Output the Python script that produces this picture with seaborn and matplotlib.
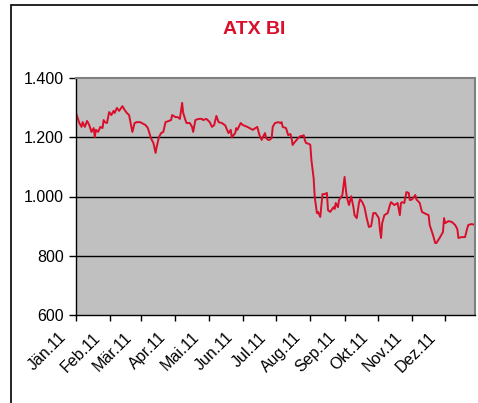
import pandas as pd
import matplotlib.pyplot as plt
import matplotlib.dates as mdates
import matplotlib.transforms as mtransforms
from matplotlib.patches import Rectangle
from matplotlib.ticker import FuncFormatter
import seaborn as sns

plt.switch_backend('Agg')

# ATX BI 2011, day of year (0 = 1 Jan) and index level
days = [0, 3, 5, 6, 8, 10, 12, 14, 16, 17, 18, 20, 22, 24, 25, 26, 28, 30, 32, 34,
        35, 37, 39, 42, 44, 46, 48, 51, 53, 55, 58, 63, 65, 68, 70, 72, 73, 75, 77, 79,
        81, 84, 86, 87, 90, 92, 94, 96, 97, 99, 100, 103, 105, 106, 108, 111, 114, 115, 118, 121,
        123, 125, 127, 129, 132, 135, 136, 138, 140, 141, 144, 145, 146, 149, 151, 155, 157, 160, 164, 166,
        168, 169, 171, 172, 174, 175, 177, 178, 180, 183, 185, 186, 187, 190, 192, 194, 195, 196, 198, 201,
        203, 205, 206, 207, 208, 211, 212, 213, 215, 216, 218, 219, 221, 223, 225, 227, 228, 230, 233, 234,
        235, 237, 238, 241, 243, 244, 245, 247, 249, 251, 252, 254, 256, 257, 259, 261, 263, 265, 267, 269,
        271, 274, 275, 276, 277, 279, 282, 284, 285, 286, 288, 291, 293, 294, 295, 297, 299, 301, 302, 304,
        305, 307, 308, 311, 313, 315, 319, 320, 323, 325, 326, 329, 332, 333, 334, 337, 340, 343, 345, 346,
        349, 352, 354, 355, 358, 361, 363]
atx = [1282, 1248, 1235, 1251, 1235, 1255, 1241, 1218, 1231, 1200, 1225, 1218, 1235, 1231, 1258, 1251, 1248, 1285, 1275, 1289,
       1282, 1299, 1289, 1305, 1292, 1282, 1275, 1218, 1248, 1251, 1251, 1241, 1231, 1195, 1181, 1147, 1167, 1200, 1214, 1218,
       1251, 1255, 1258, 1275, 1268, 1268, 1262, 1316, 1282, 1258, 1248, 1248, 1235, 1218, 1258, 1262, 1262, 1258, 1262, 1251,
       1235, 1241, 1272, 1251, 1248, 1240, 1231, 1214, 1225, 1200, 1214, 1231, 1225, 1248, 1241, 1235, 1231, 1225, 1235, 1207,
       1191, 1200, 1214, 1197, 1191, 1191, 1197, 1235, 1248, 1251, 1248, 1251, 1235, 1231, 1207, 1211, 1197, 1174, 1184, 1197,
       1204, 1204, 1207, 1191, 1181, 1177, 1174, 1123, 1062, 998, 944, 948, 931, 1008, 1008, 1012, 954, 948, 964, 958,
       978, 964, 988, 1005, 1066, 1029, 998, 971, 1001, 964, 937, 927, 978, 991, 981, 964, 927, 897, 900, 944,
       944, 927, 887, 860, 910, 937, 944, 971, 981, 978, 971, 978, 937, 978, 981, 978, 1015, 1012, 988, 990,
       995, 1005, 990, 978, 948, 944, 937, 904, 870, 843, 843, 860, 880, 927, 910, 917, 914, 904, 890, 860,
       863, 863, 893, 904, 907, 904, 910]

month_labels = ['Jän.11', 'Feb.11', 'Mär.11', 'Apr.11', 'Mai.11', 'Jun.11',
                'Jul.11', 'Aug.11', 'Sep.11', 'Okt.11', 'Nov.11', 'Dez.11']
y_ticks = [600, 800, 1000, 1200, 1400]

start = pd.Timestamp('2011-01-01')
df = pd.DataFrame({'date': start + pd.to_timedelta(days, unit='D'), 'atx': atx})

plt.rcParams['font.family'] = ['Liberation Sans', 'DejaVu Sans']

fig = plt.figure(figsize=(4.78, 4.03), dpi=100)
ax = fig.add_axes([76 / 478, 1 - 315 / 403, 399 / 478, 237 / 403])

# outer chart frame (cut off at right and bottom)
fig.patches.append(Rectangle((11 / 478, -0.1), 1.2, 1 - 5 / 403 + 0.1,
                             transform=fig.transFigure, fill=False,
                             edgecolor='black', linewidth=1.2))

ax.set_facecolor('#C0C0C0')
sns.lineplot(data=df, x='date', y='atx', ax=ax, color='#DA0E2A', linewidth=1.4)

ax.set_ylim(600, 1400)
ax.set_yticks(y_ticks)
ax.yaxis.set_major_formatter(FuncFormatter(lambda v, p: f'{v:,.0f}'.replace(',', '.')))
for v in y_ticks[1:-1]:
    ax.axhline(v, color='black', linewidth=1.0, zorder=1)

month_starts = pd.date_range('2011-01-01', periods=12, freq='MS')
ax.set_xlim(start, pd.Timestamp('2011-12-28'))
ax.set_xticks(month_starts)
ax.set_xticklabels([])

# rotated month labels, placed below and left of each tick like Excel does
offset = mtransforms.ScaledTranslation(-12 / 100, -20 / 100, fig.dpi_scale_trans)
label_trans = ax.get_xaxis_transform() + offset
for d, txt in zip(month_starts, month_labels):
    ax.text(mdates.date2num(d), 0, txt, transform=label_trans, rotation=45,
            ha='right', va='center', rotation_mode='anchor', fontsize=11.5,
            color='black', clip_on=False)

ax.tick_params(axis='both', labelsize=11.5, colors='black', length=5, width=1,
               direction='out')
ax.tick_params(axis='x', length=4)
ax.tick_params(axis='y', pad=4)

ax.set_xlabel('')
ax.set_ylabel('')
ax.grid(False)
for side in ['top', 'right']:
    ax.spines[side].set_color('#808080')
    ax.spines[side].set_linewidth(1.5)
for side in ['left', 'bottom']:
    ax.spines[side].set_color('black')
    ax.spines[side].set_linewidth(1.0)

fig.text(254 / 478, 1 - 30 / 403, 'ATX BI', ha='center', va='center',
         fontsize=14, fontweight='bold', color='#D9102B')

fig.savefig('out.png', dpi=100)
plt.close(fig)
